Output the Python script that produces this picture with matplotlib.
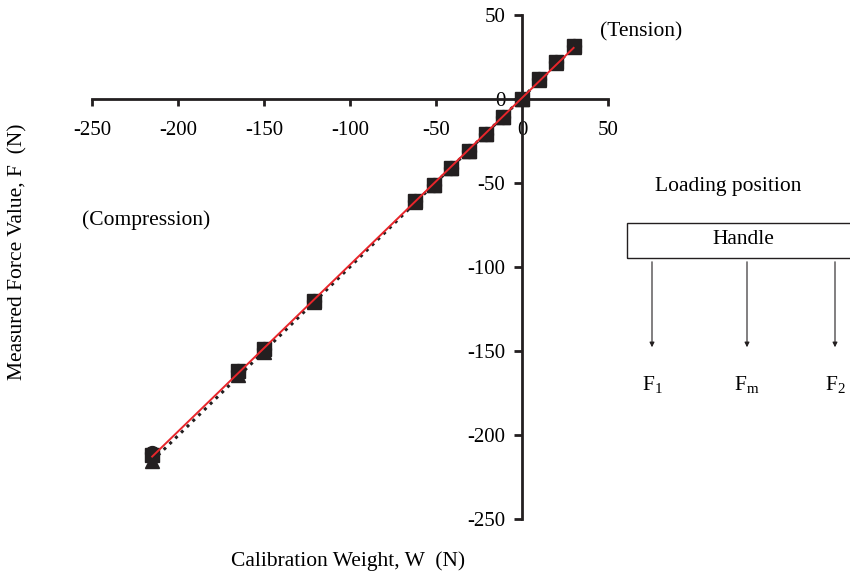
import numpy as np
import matplotlib
matplotlib.use('Agg')
import matplotlib.pyplot as plt
from matplotlib.patches import Rectangle, FancyArrowPatch

plt.rcParams['font.family'] = ['Liberation Serif', 'DejaVu Serif']
plt.rcParams['axes.unicode_minus'] = False
plt.rcParams['mathtext.fontset'] = 'custom'
plt.rcParams['mathtext.rm'] = 'Liberation Serif'

# calibration weight W (N), negative = compression
weight = [-215, -165, -150, -121, -62, -51, -41, -31, -21, -11, 0, 10, 20, 30]
# measured force at the three loading positions
force_f1 = [-211, -162, -149, -120, -61, -51, -41, -31, -21, -11, 0, 12, 22, 31.5]
force_fm = [-215.5, -164.5, -150.5, -121, -61.5, -51, -41, -31, -21, -11, 0, 11.5, 21.5, 31]
force_f2 = [-212, -162, -149, -120, -61, -51, -41, -31, -21, -11, 0, 12, 22, 31.5]

x_ticks = [-250, -200, -150, -100, -50, 0, 50]
y_ticks = [-250, -200, -150, -100, -50, 0, 50]

fig = plt.figure(figsize=(8.5, 5.76), dpi=100)
ax = fig.add_axes([0.1082, 0.099, 0.6071, 0.875])

ax.plot(weight, force_f1, 'o', color='#231f20', ms=10, zorder=2)
ax.plot(weight, force_fm, '^', color='#231f20', ms=10, zorder=2)
ax.plot(weight, force_f2, 's', color='#231f20', ms=10, zorder=3)

# linear fits
w = np.array(weight)
p_dot = np.polyfit(w, force_fm, 1)
p_red = np.polyfit(w, force_f2, 1)
ax.plot(w, np.polyval(p_dot, w), ':', color='#231f20', lw=2.2, zorder=4)
ax.plot(w, np.polyval(p_red, w), '-', color='#e8262b', lw=1.4, zorder=5)

ax.set_xlim(-250, 50)
ax.set_ylim(-250, 50)
ax.set_xticks(x_ticks)
ax.set_yticks(y_ticks)
ax.spines['left'].set_position(('data', 0))
ax.spines['bottom'].set_position(('data', 0))
ax.spines['top'].set_visible(False)
ax.spines['right'].set_visible(False)
for s in ('left', 'bottom'):
    ax.spines[s].set_linewidth(2.0)
    ax.spines[s].set_color('#231f20')
ax.tick_params(axis='x', direction='out', length=5, width=2.0, pad=11,
               labelsize=15, color='#231f20')
ax.tick_params(axis='y', direction='out', length=6, width=2.0, pad=6,
               labelsize=15, color='#231f20')
ax.patch.set_visible(False)

fs = 15.5
fig.text(348 / 850, 1 - 561 / 576, 'Calibration Weight, W  (N)', ha='center', va='center', fontsize=fs)
fig.text(18 / 850, 1 - 252 / 576, 'Measured Force Value, F  (N)', ha='center', va='center',
         rotation=90, fontsize=fs)
fig.text(641 / 850, 1 - 32 / 576, '(Tension)', ha='center', va='center', fontsize=fs)
fig.text(146 / 850, 1 - 220 / 576, '(Compression)', ha='center', va='center', fontsize=fs)

# loading position diagram
fig.text(728 / 850, 1 - 186 / 576, 'Loading position', ha='center', va='center', fontsize=fs)
box = Rectangle((627 / 850, 1 - 258 / 576), 240 / 850, 35 / 576, transform=fig.transFigure,
                fill=False, ec='#231f20', lw=1.0, clip_on=False)
fig.add_artist(box)
fig.text(743 / 850, 1 - 239 / 576, 'Handle', ha='center', va='center', fontsize=fs)
for xp, lab in zip([652, 747, 835], ['F$_1$', 'F$_\\mathrm{m}$', 'F$_2$']):
    fig.add_artist(FancyArrowPatch(
        (xp / 850, 1 - 259 / 576), (xp / 850, 1 - 350 / 576), transform=fig.transFigure,
        arrowstyle='-|>', mutation_scale=7, lw=0.8, color='#231f20'))
    fig.text(xp / 850, 1 - 385 / 576, lab, ha='center', va='center', fontsize=fs)

fig.savefig('out.png', dpi=100)
